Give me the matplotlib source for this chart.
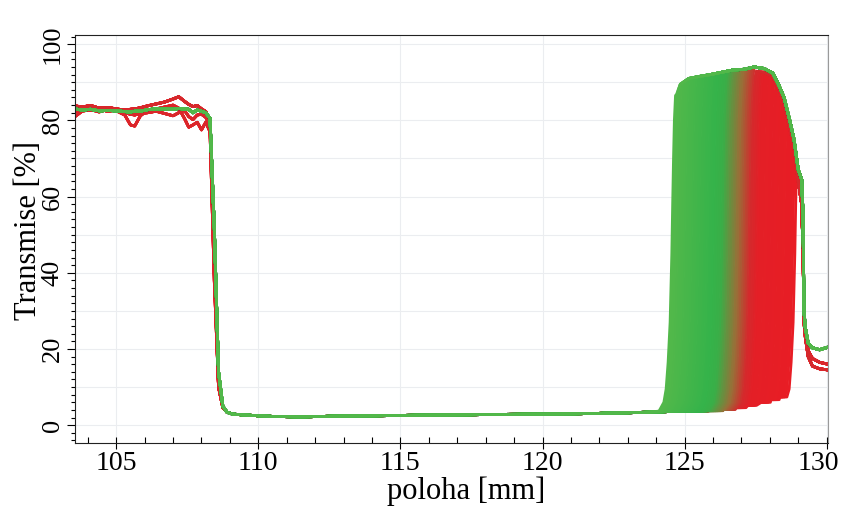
import numpy as np
import matplotlib.pyplot as plt
from matplotlib.colors import LinearSegmentedColormap
from matplotlib.ticker import MultipleLocator
from matplotlib.transforms import ScaledTranslation

plt.rcParams['font.family'] = 'Liberation Serif'

# left plateau and falling edge (same positions for every variant)
left_pos = [103.55, 103.8, 104.1, 104.4, 104.7, 105.0, 105.3, 105.5, 105.65, 105.85,
            106.1, 106.4, 106.7, 107.0, 107.2, 107.4, 107.55, 107.7, 107.85, 108.0,
            108.15, 108.3, 108.45, 108.6, 108.75]
left_green = [83.0, 82.7, 82.9, 82.5, 82.6, 82.5, 82.3, 82.2, 82.4, 82.4,
              82.8, 83.0, 83.0, 82.9, 83.1, 83.0, 82.9, 82.0, 82.7, 82.4,
              82.0, 80.5, 52.0, 14.0, 5.0]
left_red_a = [83.8, 83.5, 83.9, 83.2, 83.4, 83.0, 82.7, 82.9, 83.0, 83.3,
              83.8, 84.3, 84.8, 85.6, 86.2, 85.0, 84.2, 83.6, 83.9, 83.0,
              82.3, 80.0, 42.0, 11.0, 4.8]
left_red_b = [82.2, 83.0, 82.6, 83.1, 82.3, 82.8, 82.0, 81.6, 81.4, 81.8,
              82.0, 82.4, 81.8, 81.2, 82.0, 82.6, 81.0, 80.2, 81.4, 81.6,
              80.8, 78.5, 40.0, 10.0, 4.6]
left_red_dip = [81.0, 82.4, 82.8, 82.2, 82.9, 82.5, 81.4, 78.8, 78.5, 81.2,
                82.6, 83.0, 83.5, 84.0, 83.2, 80.5, 78.2, 78.8, 79.5, 77.5,
                79.5, 77.0, 38.0, 10.0, 4.6]

# bottom (blocked) level
floor_pos = [108.9, 109.1, 109.7, 110.5, 111.5, 113.0, 115.5, 118.0, 120.0,
             122.0, 123.7, 124.5, 125.8, 126.4, 126.8, 127.2, 127.6, 127.9,
             128.2, 128.5, 128.9]
floor_t = [3.4, 2.9, 2.6, 2.3, 2.2, 2.4, 2.6, 2.8, 2.9,
           3.1, 3.4, 3.6, 3.8, 4.1, 4.6, 5.2, 6.0, 6.7,
           7.4, 8.2, 9.0]

# shape of the rising edge, relative to the edge position (capped by the plateau)
rise_dx = [-0.45, -0.28, -0.20, -0.13, -0.06, 0.0, 0.03, 0.06, 0.09, 0.13, 0.17, 0.22]
rise_t = [3.7, 6.0, 9.5, 16.5, 27.0, 45.0, 58.0, 70.0, 80.0, 86.5, 91.0, 99.0]

# top plateau and final drop
top_pos = [124.7, 124.85, 125.15, 125.5, 125.9, 126.3, 126.7, 127.1, 127.45, 127.8, 128.1,
           128.3, 128.5, 128.7, 128.85, 129.0, 129.12, 129.17, 129.2, 129.25, 129.35,
           129.5, 129.75, 130.05]
top_green = [86.5, 89.5, 91.0, 91.5, 92.0, 92.6, 93.2, 93.4, 94.0, 93.6, 92.4,
             89.5, 86.0, 80.0, 75.0, 67.0, 64.5, 55.0, 30.0, 25.5, 21.5,
             20.3, 19.8, 20.5]
top_red = [86.0, 89.0, 90.5, 91.0, 91.5, 92.0, 92.6, 92.8, 93.0, 92.6, 91.5,
           88.5, 84.5, 78.0, 73.0, 64.0, 58.0, 45.0, 28.0, 24.5, 19.5,
           17.5, 16.5, 16.0]
top_red_low = [86.0, 89.0, 90.5, 91.0, 91.5, 92.0, 92.6, 92.8, 93.0, 92.6, 91.5,
               88.5, 84.5, 78.0, 73.0, 64.0, 58.0, 45.0, 27.0, 23.0, 18.0,
               15.5, 14.8, 14.5]

# position of the rising edge of each measured curve
rise_pos = [124.55, 124.61, 124.67, 124.73, 124.80, 124.86, 124.92, 124.98, 125.05, 125.11,
            125.17, 125.23, 125.30, 125.36, 125.42, 125.48, 125.55, 125.61, 125.67, 125.73,
            125.80, 125.86, 125.92, 125.98, 126.05, 126.11, 126.17, 126.23, 126.30, 126.36,
            126.42, 126.48, 126.55, 126.61, 126.67, 126.73, 126.80, 126.86, 126.92, 126.98,
            127.05, 127.11, 127.17, 127.23, 127.30, 127.36, 127.42, 127.48, 127.55, 127.61,
            127.67, 127.73, 127.80, 127.86, 127.92, 127.98, 128.05, 128.11, 128.17, 128.23,
            128.30, 128.36, 128.42, 128.48, 128.55, 128.61, 128.67, 128.73, 128.80, 128.88]

cmap = LinearSegmentedColormap.from_list('gr', [
    (0.0, '#52b84a'), (0.33, '#35b34a'), (0.40, '#3aae47'),
    (0.53, '#987038'), (0.63, '#d42a2d'), (0.70, '#e41f26'), (1.0, '#e81d25')])

fp = np.array(floor_pos)
ft = np.array(floor_t)
tp = np.array(top_pos)
red_left = [left_red_a, left_red_b, left_red_dip, left_red_a]

fig = plt.figure(figsize=(8.45, 5.07), dpi=100)
ax = fig.add_axes([0.0888, 0.126, 0.8912, 0.805])

lo, hi = rise_pos[0], rise_pos[-1]
for i in range(len(rise_pos) - 1, -1, -1):
    rp = rise_pos[i]
    if rp > 127.25:
        lt = red_left[i % 4]
        tt = top_red if i % 2 else top_red_low
    else:
        lt = left_green
        tt = top_green
    tt = np.array(tt)
    rx = rp + np.array(rise_dx)
    kf = fp < rx[0]
    rv = np.maximum(rise_t, ft[kf][-1])
    rv = np.minimum(rv, np.interp(rx, tp, tt))
    kt = tp > rx[-1]
    x = np.concatenate([left_pos, fp[kf], rx, tp[kt]])
    y = np.concatenate([lt, ft[kf], rv, tt[kt]])
    ax.plot(x, y, color=cmap((rp - lo) / (hi - lo)), lw=2.0, solid_joinstyle='round')

ax.set_xlim(103.55, 130.05)
ax.set_ylim(-4.7, 102.4)
ax.set_xticks([105, 110, 115, 120, 125, 130])
ax.set_yticks([0, 20, 40, 60, 80, 100])
ax.xaxis.set_minor_locator(MultipleLocator(1))
ax.yaxis.set_minor_locator(MultipleLocator(2))
ax.grid(True, which='major', color='#ebedf0', lw=0.8, zorder=0)
for v in [10, 30, 50, 70, 90]:
    ax.axhline(v, color='#ebedf0', lw=0.8, zorder=0)
ax.set_axisbelow(True)

ax.tick_params(axis='x', which='major', direction='inout', length=8, width=0.8, labelsize=20, pad=2)
ax.tick_params(axis='x', which='minor', direction='in', length=4, width=0.8)
ax.tick_params(axis='y', which='major', direction='out', length=6, width=0.8, labelsize=19, pad=2)
ax.tick_params(axis='y', which='minor', direction='out', length=3, width=0.8)
for lab in ax.get_yticklabels():
    lab.set_rotation(90)
    lab.set_va('center')
last = ax.get_xticklabels()[-1]
last.set_transform(last.get_transform() + ScaledTranslation(-0.08, 0, fig.dpi_scale_trans))

for s in ['left', 'bottom', 'top']:
    ax.spines[s].set_color('#222222')
ax.spines['right'].set_color('#9a9a9a')

ax.set_xlabel('poloha [mm]', fontsize=22)
ax.xaxis.set_label_coords(0.519, -0.083)
ax.set_ylabel('Transmise [%]', fontsize=22)
ax.yaxis.set_label_coords(-0.042, 0.52)

fig.savefig('out.png', dpi=100)
